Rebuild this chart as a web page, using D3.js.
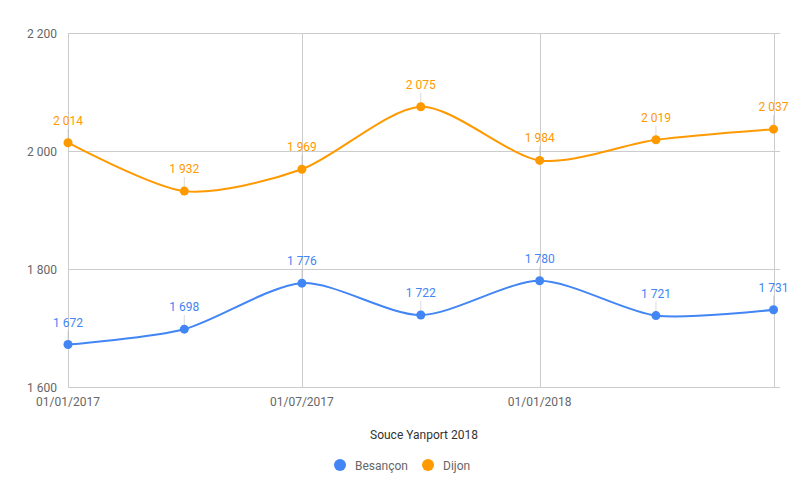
<!DOCTYPE html>
<html><head><meta charset="utf-8">
<script src="https://cdn.jsdelivr.net/npm/d3@7"></script>
<style>body{margin:0;background:#fff;font-family:Roboto,Arial,sans-serif}</style>
</head><body><svg id="c" width="805" height="498"></svg>
<script>
const dates = ["2017-01-01","2017-04-01","2017-07-01","2017-10-01","2018-01-01","2018-04-01","2018-07-01"];
const besancon = [1672,1698,1776,1722,1780,1721,1731];
const dijon = [2014,1932,1969,2075,1984,2019,2037];
const yTicks = [1600,1800,2000,2200];
const xTicks = ["2017-01-01","2017-07-01","2018-01-01","2018-07-01"];
const xTickLabels = ["01/01/2017","01/07/2017","01/01/2018",""];
const seriesNames = ["Besançon","Dijon"];
const colors = ["#4285F4","#FF9900"];
const title = "Souce Yanport 2018";

const parse = d3.utcParse("%Y-%m-%d");
const loc = d3.formatLocale({decimal:",",thousands:"\u00A0",grouping:[3],currency:["","€"]});
const fmt = loc.format(",d");
const svg = d3.select("#c");
const x = d3.scaleUtc().domain([parse("2017-01-01"), parse("2018-07-06")]).range([68,780]);
const y = d3.scaleLinear().domain([1600,2200]).range([387,33]);

const g = svg.append("g");
g.selectAll("line.h").data(yTicks).join("line")
  .attr("x1",68).attr("x2",780).attr("y1",d=>y(d)).attr("y2",d=>y(d))
  .attr("stroke","#cccccc").attr("stroke-width",1).attr("shape-rendering","crispEdges");
g.selectAll("line.v").data(xTicks).join("line")
  .attr("x1",d=>Math.round(x(parse(d)))+0.5).attr("x2",d=>Math.round(x(parse(d)))+0.5)
  .attr("y1",33).attr("y2",387)
  .attr("stroke","#cccccc").attr("stroke-width",1);
g.selectAll("text.y").data(yTicks).join("text")
  .attr("x",57).attr("y",d=>y(d)+4.5).attr("text-anchor","end")
  .attr("font-size",12).attr("fill","#666").text(d=>fmt(d));
g.selectAll("text.x").data(xTicks).join("text")
  .attr("x",d=>x(parse(d))).attr("y",406).attr("text-anchor","middle")
  .attr("font-size",12).attr("fill","#666").text((d,i)=>xTickLabels[i]);
svg.append("text").attr("x",(68+780)/2).attr("y",439).attr("text-anchor","middle")
  .attr("font-size",12).attr("fill","#333").text(title);

const line = d3.line().x((d,i)=>x(parse(dates[i]))).y(d=>y(d)).curve(d3.curveCardinal.tension(0.2));
[besancon,dijon].forEach((vals,si)=>{
  const c = colors[si];
  svg.append("path").attr("d",line(vals)).attr("fill","none").attr("stroke",c).attr("stroke-width",2);
  const s = svg.append("g");
  vals.forEach((v,i)=>{
    const cx = x(parse(dates[i])), cy = y(v);
    s.append("line").attr("x1",cx).attr("x2",cx).attr("y1",cy-4).attr("y2",cy-14)
      .attr("stroke","#999").attr("stroke-opacity",0.35).attr("stroke-width",1);
    s.append("circle").attr("cx",cx).attr("cy",cy).attr("r",4.5).attr("fill",c);
    s.append("text").attr("x",cx).attr("y",cy-18).attr("text-anchor","middle")
      .attr("font-size",12).attr("fill",c).text(fmt(v));
  });
});
const leg = [{x:340},{x:428}];
seriesNames.forEach((n,i)=>{
  svg.append("circle").attr("cx",leg[i].x).attr("cy",465).attr("r",6).attr("fill",colors[i]);
  svg.append("text").attr("x",leg[i].x+15).attr("y",469.5).attr("font-size",12).attr("fill","#666").text(n);
});
</script></body></html>
